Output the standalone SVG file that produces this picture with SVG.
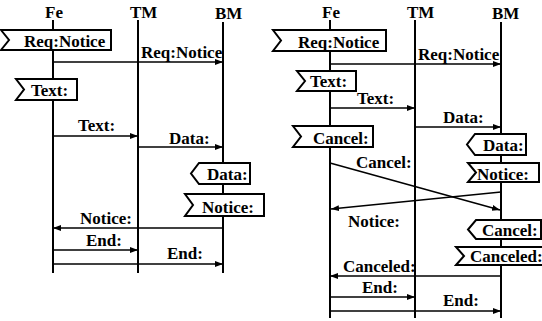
<svg xmlns="http://www.w3.org/2000/svg" width="542" height="321" viewBox="0 0 542 321">
<style>
text{font-family:"Liberation Serif","Times New Roman",serif;font-weight:bold;font-size:17px;fill:#000}
.life{stroke:#000;stroke-width:2;fill:none}
.msg{stroke:#000;stroke-width:1.6;fill:none;marker-end:url(#ah)}
.box{stroke:#000;stroke-width:2;fill:#fff;stroke-linejoin:miter}
</style>
<defs>
<marker id="ah" markerUnits="userSpaceOnUse" markerWidth="9" markerHeight="7" refX="8" refY="3" orient="auto">
<path d="M0,0 L8,3 L0,6 Z" fill="#000"/>
</marker>
</defs>
<rect width="542" height="321" fill="#fff"/>

<!-- Left diagram -->
<g id="L-Fe"><text x="45" y="18">Fe</text><line class="life" x1="53" y1="20" x2="53" y2="273"/></g>
<g id="L-TM"><text x="130" y="18">TM</text><line class="life" x1="138" y1="20" x2="138" y2="273"/></g>
<g id="L-BM"><text x="215" y="19">BM</text><line class="life" x1="223" y1="22" x2="223" y2="273"/></g>

<g id="L-connectors">
<line class="msg" x1="53" y1="62" x2="223" y2="62"/>
<text x="141" y="58">Req:Notice</text>
<line class="msg" x1="53" y1="136" x2="138" y2="136"/>
<text x="78" y="131">Text:</text>
<line class="msg" x1="138" y1="147" x2="223" y2="147"/>
<text x="169" y="144">Data:</text>
<line class="msg" x1="223" y1="228" x2="53" y2="228"/>
<text x="80" y="224">Notice:</text>
<line class="msg" x1="53" y1="250" x2="138" y2="250"/>
<text x="86" y="246">End:</text>
<line class="msg" x1="53" y1="264" x2="223" y2="264"/>
<text x="167" y="259">End:</text>
</g>

<g id="L-in-ReqNotice"><path class="box" d="M1,30 H111 V50 H1 L9,40 Z"/><text x="24" y="47">Req:Notice</text></g>
<g id="L-in-Text"><path class="box" d="M16,79 H77 V100 H16 L24,89.5 Z"/><text x="31" y="96">Text:</text></g>
<g id="L-out-Data"><path class="box" d="M199,163 H250 V184 H199 L191,173.5 Z"/><text x="207" y="180">Data:</text></g>
<g id="L-in-Notice"><path class="box" d="M185,194 H264 V216 H185 L193,205 Z"/><text x="202" y="213">Notice:</text></g>

<!-- Right diagram -->
<g id="R-Fe"><text x="322" y="18">Fe</text><line class="life" x1="330" y1="20" x2="330" y2="318"/></g>
<g id="R-TM"><text x="407" y="18">TM</text><line class="life" x1="415" y1="20" x2="415" y2="318"/></g>
<g id="R-BM"><text x="492" y="19">BM</text><line class="life" x1="501" y1="22" x2="501" y2="318"/></g>

<g id="R-connectors">
<line class="msg" x1="330" y1="64" x2="501" y2="64"/>
<text x="418" y="60">Req:Notice</text>
<line class="msg" x1="330" y1="108" x2="415" y2="108"/>
<text x="357" y="104">Text:</text>
<line class="msg" x1="415" y1="127" x2="501" y2="127"/>
<text x="443" y="123">Data:</text>
<line class="msg" x1="330" y1="163" x2="500" y2="210"/>
<text x="356" y="168">Cancel:</text>
<line class="msg" x1="501" y1="192" x2="331" y2="209"/>
<text x="348" y="227">Notice:</text>
<line class="msg" x1="501" y1="276" x2="330" y2="276"/>
<text x="343" y="272">Canceled:</text>
<line class="msg" x1="330" y1="297" x2="415" y2="297"/>
<text x="362" y="293">End:</text>
<line class="msg" x1="330" y1="311" x2="501" y2="311"/>
<text x="443" y="306">End:</text>
</g>

<g id="R-in-ReqNotice"><path class="box" d="M273,30 H386 V51 H273 L281,40.5 Z"/><text x="298" y="48">Req:Notice</text></g>
<g id="R-in-Text"><path class="box" d="M297,71 H356 V91 H297 L305,81 Z"/><text x="310" y="87">Text:</text></g>
<g id="R-in-Cancel"><path class="box" d="M293,126 H373 V147 H293 L301,136.5 Z"/><text x="313" y="144">Cancel:</text></g>
<g id="R-out-Data"><path class="box" d="M475,134 H526 V155 H475 L467,144.5 Z"/><text x="483" y="151">Data:</text></g>
<g id="R-in-Notice"><path class="box" d="M468,163 H539 V182 H468 L476,172.5 Z"/><text x="477" y="180">Notice:</text></g>
<g id="R-out-Cancel"><path class="box" d="M476,220 H541 V239 H476 L468,229.5 Z"/><text x="482" y="236">Cancel:</text></g>
<g id="R-in-Canceled"><path class="box" d="M456,247 H546 V265 H456 L464,256 Z"/><text x="470" y="262">Canceled:</text></g>
</svg>
